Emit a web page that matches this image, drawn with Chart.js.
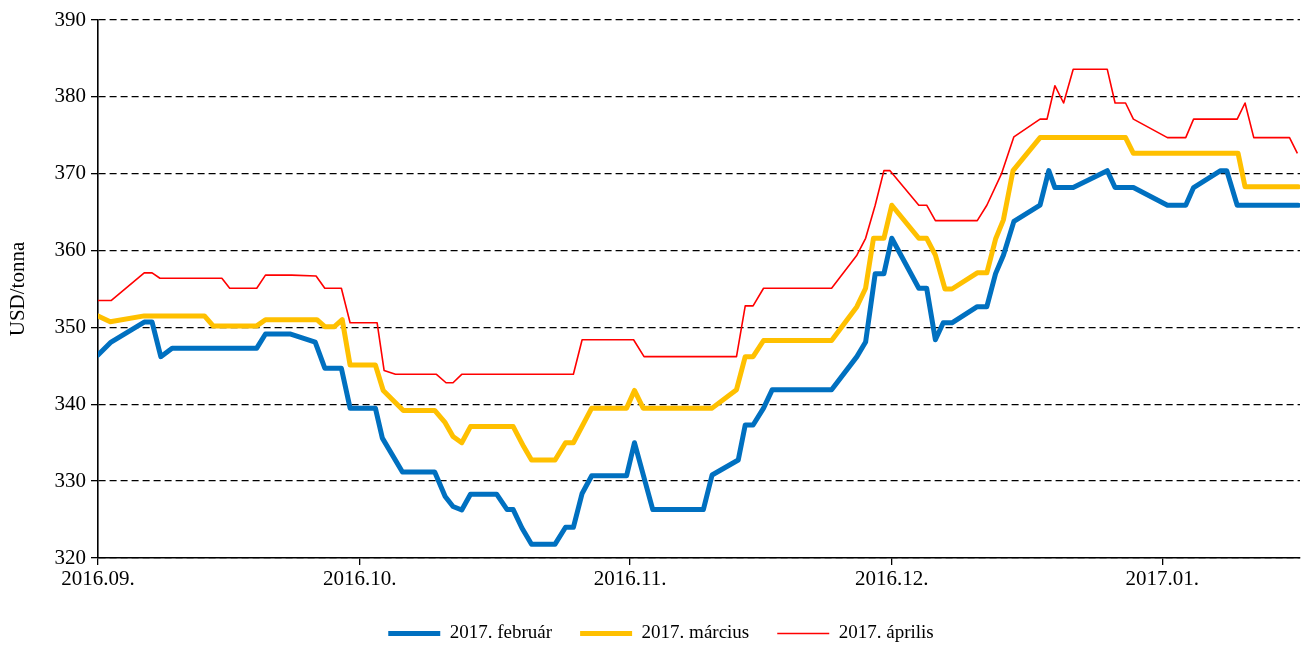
<!DOCTYPE html>
<html>
<head>
<meta charset="utf-8">
<script src="https://cdn.jsdelivr.net/npm/chart.js@4.4.1/dist/chart.umd.min.js"></script>
<style>
  html, body { margin: 0; padding: 0; background: #fff; }
  #wrap { width: 1306px; height: 645px; }
</style>
</head>
<body>
<div id="wrap"><canvas id="c" width="1306" height="645"></canvas></div>
<script>
// x values: days since 2016-09-01
const monthLabels = ['2016.09.', '2016.10.', '2016.11.', '2016.12.', '2017.01.'];
const monthStartDays = [0, 30, 61, 91, 122];
const seriesNames = ['2017. február', '2017. március', '2017. április'];

const febDays = [0,1.5,5.3,6.2,7.2,8.5,18.2,19.2,22.0,24.9,26.0,27.9,28.9,31.8,32.6,34.9,38.6,39.8,40.7,41.7,42.7,45.7,46.9,47.6,48.6,49.7,52.4,53.6,54.5,55.5,56.6,60.6,61.5,63.6,69.4,70.4,73.4,74.2,75.1,76.3,77.3,84.1,87.0,88.0,89.1,90.1,91.0,94.1,95.0,96.0,96.9,97.9,100.8,101.9,102.9,103.8,105.0,108.0,109.0,109.7,111.8,115.7,116.6,118.7,122.6,124.7,125.6,128.7,129.4,130.6,137.6];
const febValues = [346.4,348.1,350.7,350.7,346.2,347.3,347.3,349.15,349.15,348.1,344.7,344.7,339.5,339.5,335.6,331.2,331.2,328.0,326.7,326.25,328.3,328.3,326.3,326.3,323.9,321.8,321.8,324.0,324.0,328.4,330.7,330.7,335.0,326.3,326.3,330.8,332.75,337.3,337.3,339.5,341.9,341.9,346.2,348.1,357.0,357.0,361.6,355.1,355.1,348.4,350.6,350.6,352.7,352.7,357.0,359.4,363.8,365.9,370.4,368.2,368.2,370.4,368.2,368.2,365.9,365.9,368.2,370.4,370.4,365.9,365.9];

const marDays = [0,1.4,5.3,12.2,13.2,18.2,19.2,25.1,26.0,27.1,28.0,28.9,31.8,32.7,35.0,38.6,39.8,40.7,41.7,42.7,47.6,48.8,49.7,52.4,53.6,54.5,56.6,60.6,61.5,62.5,70.4,73.2,74.2,75.1,76.3,84.1,87.0,88.0,88.9,90.1,91.0,94.1,95.0,96.0,97.1,97.9,100.8,101.9,102.9,103.8,104.9,108.0,117.8,118.7,130.7,131.5,137.6];
const marValues = [351.5,350.75,351.5,351.5,350.2,350.2,351.0,351.0,350.1,350.1,351.0,345.1,345.1,341.8,339.2,339.2,337.6,335.8,335.0,337.1,337.1,334.5,332.75,332.75,335.0,335.0,339.5,339.5,341.8,339.5,339.5,341.9,346.2,346.2,348.3,348.3,352.7,355.1,361.6,361.6,365.9,361.6,361.6,359.4,355.0,355.0,357.1,357.1,361.5,364.0,370.4,374.7,374.7,372.65,372.65,368.3,368.3];

const aprDays = [0,1.5,5.3,6.2,7.1,14.2,15.1,18.2,19.2,22.2,25.0,26.0,27.9,28.9,32.0,32.8,34.1,38.8,39.9,40.7,41.7,54.5,55.5,61.4,62.6,73.2,74.2,75.1,76.3,84.1,87.0,88.0,89.1,90.1,90.8,94.1,95.0,96.0,100.8,101.9,103.6,105.0,108.0,108.8,109.7,110.7,111.8,115.7,116.6,117.8,118.7,122.6,124.7,125.6,130.6,131.5,132.5,136.6,137.5];
const aprValues = [353.5,353.5,357.1,357.1,356.4,356.4,355.1,355.1,356.8,356.8,356.7,355.1,355.1,350.6,350.6,344.4,343.9,343.9,342.8,342.8,343.9,343.9,348.4,348.4,346.2,346.2,352.8,352.8,355.1,355.1,359.4,361.6,365.9,370.4,370.4,365.9,365.9,363.9,363.9,365.9,370.05,374.8,377.1,377.1,381.45,379.2,383.6,383.6,379.2,379.2,377.1,374.7,374.7,377.1,377.1,379.2,374.7,374.7,372.65];

const yTicks = [320, 330, 340, 350, 360, 370, 380, 390];

const pts = (xs, ys) => xs.map((x, i) => ({ x: x, y: ys[i] }));
const serif = "'Liberation Serif', 'Times New Roman', serif";

const legendShift = {
  id: 'legendShift',
  afterLayout(chart) {
    const l = chart.legend;
    if (!l) return;
    const dx = 11, dy = 8;
    l.left += dx; l.right += dx; l.top += dy; l.bottom += dy;
  }
};

new Chart(document.getElementById('c'), {
  type: 'line',
  data: {
    datasets: [
      { label: seriesNames[0], data: pts(febDays, febValues), borderColor: '#0070C0', backgroundColor: '#0070C0',
        borderWidth: 5, order: 2, borderJoinStyle: 'round', borderCapStyle: 'round' },
      { label: seriesNames[1], data: pts(marDays, marValues), borderColor: '#FFC000', backgroundColor: '#FFC000',
        borderWidth: 5, order: 1, borderJoinStyle: 'round', borderCapStyle: 'round' },
      { label: seriesNames[2], data: pts(aprDays, aprValues), borderColor: '#FF0000', backgroundColor: '#FF0000',
        borderWidth: 1.6, order: 0, borderJoinStyle: 'round', borderCapStyle: 'butt' }
    ]
  },
  options: {
    responsive: false,
    animation: false,
    devicePixelRatio: 1,
    elements: { point: { radius: 0, hoverRadius: 0 }, line: { tension: 0, fill: false } },
    layout: { padding: { left: 0, right: 6, top: 20, bottom: 0 } },
    plugins: {
      tooltip: { enabled: false },
      legend: {
        position: 'bottom',
        labels: {
          usePointStyle: true,
          pointStyle: 'line',
          pointStyleWidth: 52,
          boxWidth: 52,
          padding: 28,
          color: '#000',
          font: { family: serif, size: 19 },
          sort: (a, b) => a.datasetIndex - b.datasetIndex
        }
      }
    },
    scales: {
      x: {
        type: 'linear',
        min: 0,
        max: 137.8,
        afterBuildTicks: (s) => { s.ticks = monthStartDays.map(v => ({ value: v })); },
        afterFit: (s) => { s.height = 30; },
        ticks: {
          autoSkip: false,
          maxRotation: 0,
          padding: 2,
          color: '#000',
          font: { family: serif, size: 21 },
          callback: (v) => { const i = monthStartDays.indexOf(v); return i >= 0 ? monthLabels[i] : ''; }
        },
        grid: { drawOnChartArea: false, drawTicks: true, tickLength: 7, color: '#000', lineWidth: 1.3, tickColor: '#000', tickWidth: 1.3 },
        border: { display: true, color: '#000', width: 1.6 }
      },
      y: {
        min: 320,
        max: 390,
        afterBuildTicks: (s) => { s.ticks = yTicks.map(v => ({ value: v })); },
        afterFit: (s) => { s.width = 98; },
        ticks: { padding: 5, color: '#000', font: { family: serif, size: 21 } },
        title: { display: true, text: 'USD/tonna', color: '#000', font: { family: serif, size: 21 }, padding: { top: 6, bottom: 0 } },
        grid: { color: '#000', lineWidth: 1.3, tickLength: 7, tickColor: '#000', tickWidth: 1.3, tickBorderDash: [] },
        border: { display: true, color: '#000', width: 1.6, dash: [7, 4] }
      }
    }
  },
  plugins: [legendShift]
});
</script>
</body>
</html>
